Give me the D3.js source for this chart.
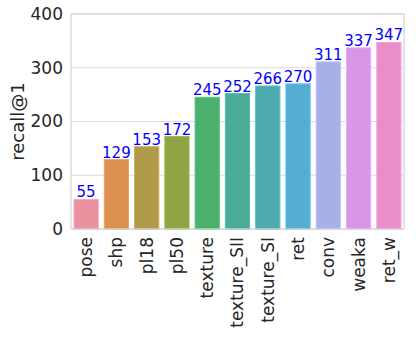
<!DOCTYPE html>
<html>
<head>
<meta charset="utf-8">
<script src="https://cdn.jsdelivr.net/npm/d3@7"></script>
<style>
  body { margin: 0; background: #fff; }
  text { font-family: "DejaVu Sans", sans-serif; }
</style>
</head>
<body>
<svg width="416" height="339"></svg>
<script>
var categories = ["pose", "shp", "pl18", "pl50", "texture", "texture_SII", "texture_SI", "ret", "conv", "weaka", "ret_w"];
var values = [55, 129, 153, 172, 245, 252, 266, 270, 311, 337, 347];
var colors = ["#e8929f", "#da9051", "#b19b4a", "#8fa544", "#4ab06b", "#4aab97", "#4dabb0", "#54add2", "#a9afe8", "#d797e6", "#e98ec8"];
var yTicks = [0, 100, 200, 300, 400];

var svg = d3.select("svg"),
    margin = {top: 14, right: 12, bottom: 110, left: 71},
    width = +svg.attr("width") - margin.left - margin.right,
    height = +svg.attr("height") - margin.top - margin.bottom;

var g = svg.append("g").attr("transform", "translate(" + margin.left + "," + margin.top + ")");

var x = d3.scaleBand()
    .domain(categories)
    .range([0, width])
    .paddingInner(0.2)
    .paddingOuter(0.1);

var y = d3.scaleLinear()
    .domain([0, 400])
    .range([height, 0]);

// grid
g.selectAll(".grid")
  .data(yTicks)
  .enter().append("line")
    .attr("x1", 0)
    .attr("x2", width)
    .attr("y1", function(d) { return y(d); })
    .attr("y2", function(d) { return y(d); })
    .attr("stroke", "#dcdcdc")
    .attr("stroke-width", 1);

g.selectAll(".bar")
  .data(values)
  .enter().append("rect")
    .attr("x", function(d, i) { return x(categories[i]); })
    .attr("y", function(d) { return y(d); })
    .attr("width", x.bandwidth())
    .attr("height", function(d) { return height - y(d); })
    .attr("fill", function(d, i) { return colors[i]; })
    .attr("stroke", function(d, i) { return d3.color(colors[i]).brighter(0.3); })
    .attr("stroke-width", 1);

g.selectAll(".val")
  .data(values)
  .enter().append("text")
    .attr("x", function(d, i) { return x(categories[i]) + x.bandwidth() / 2; })
    .attr("y", function(d) { return y(d) - 2; })
    .attr("text-anchor", "middle")
    .attr("fill", "blue")
    .attr("font-size", "15px")
    .text(function(d) { return d; });

// frame
g.append("rect")
  .attr("width", width)
  .attr("height", height)
  .attr("fill", "none")
  .attr("stroke", "#d4d4d4")
  .attr("stroke-width", 1.2);

var yAxis = g.append("g").call(d3.axisLeft(y).tickValues(yTicks).tickSize(0).tickPadding(8));
yAxis.select(".domain").remove();
yAxis.selectAll("text").attr("font-size", "17px").attr("fill", "#262626").attr("font-family", "DejaVu Sans");

var xAxis = g.append("g")
  .attr("transform", "translate(0," + height + ")")
  .call(d3.axisBottom(x).tickSize(0).tickPadding(8));
xAxis.select(".domain").remove();
xAxis.selectAll("text")
  .attr("font-size", "17px")
  .attr("fill", "#262626")
  .attr("font-family", "DejaVu Sans")
  .attr("transform", "rotate(-90)")
  .attr("text-anchor", "end")
  .attr("x", -8)
  .attr("y", 0)
  .attr("dy", "0.35em");

svg.append("text")
  .attr("transform", "translate(24," + (margin.top + height / 2) + ") rotate(-90)")
  .attr("text-anchor", "middle")
  .attr("font-size", "18px")
  .attr("fill", "#262626")
  .text("recall@1");
</script>
</body>
</html>
